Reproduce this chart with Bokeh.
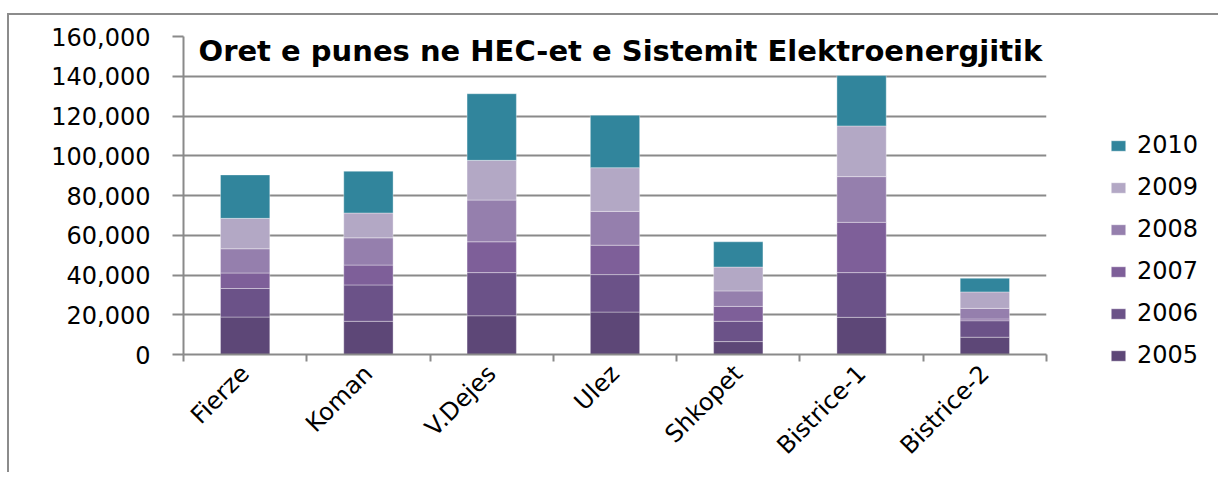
from math import pi
from bokeh.plotting import figure
from bokeh.models import (ColumnDataSource, Range1d, FixedTicker, NumeralTickFormatter,
                          Legend, LegendItem, Label)
from bokeh.embed import file_html
from bokeh.resources import INLINE

# ---- data ----
stations = ["Fierze", "Koman", "V.Dejes", "Ulez", "Shkopet", "Bistrice-1", "Bistrice-2"]
years = ["2005", "2006", "2007", "2008", "2009", "2010"]
v2005 = [18850, 16700, 19500, 21350, 6500, 18700, 8700]
v2006 = [14350, 18300, 21700, 18850, 10200, 22500, 8300]
v2007 = [7800, 10000, 15500, 14800, 7500, 25300, 850]
v2008 = [12200, 13700, 21000, 17000, 7800, 23000, 5350]
v2009 = [15300, 12500, 20000, 22000, 12000, 25500, 8300]
v2010 = [21850, 21000, 33500, 26350, 12700, 25350, 6850]
y_ticks = [0, 20000, 40000, 60000, 80000, 100000, 120000, 140000, 160000]
title_text = "Oret e punes ne HEC-et e Sistemit Elektroenergjitik"

colors = ["#5d4777", "#6b5288", "#7e5f99", "#957fad", "#b3a8c5", "#31859c"]
GRAY = "#8a8a8a"
FONT = "DejaVu Sans"

xs = list(range(len(stations)))
src = ColumnDataSource(dict(x=xs, **{y: v for y, v in zip(years, [v2005, v2006, v2007, v2008, v2009, v2010])}))

p = figure(frame_width=863, frame_height=318, output_backend="svg", toolbar_location=None,
           x_range=Range1d(-0.5, len(stations) - 0.5), y_range=Range1d(y_ticks[0], y_ticks[-1]),
           min_border_left=174, min_border_top=21, min_border_right=172, min_border_bottom=118)
p.styles = {"border-top": "2px solid #8c8c8c", "border-left": "2px solid #8c8c8c",
            "margin-top": "13px", "margin-left": "7px"}
p.outline_line_color = None

renderers = p.vbar_stack(years, x="x", width=0.4, source=src, color=colors,
                         line_color="white", line_alpha=0.35, line_width=1)

# axes
p.yaxis.ticker = FixedTicker(ticks=y_ticks)
p.yaxis.formatter = NumeralTickFormatter(format="0,0")
p.yaxis.major_tick_out = 11
p.yaxis.major_tick_in = 0
p.yaxis.minor_tick_out = 0
p.yaxis.minor_tick_in = 0
p.yaxis.major_label_standoff = 22
p.yaxis.major_label_text_font = FONT
p.yaxis.major_label_text_font_size = "24px"
p.yaxis.major_label_text_color = "black"

p.xaxis.ticker = FixedTicker(ticks=xs, minor_ticks=[i - 0.5 for i in range(len(stations) + 1)])
p.xaxis.major_label_overrides = {i: s for i, s in enumerate(stations)}
p.xaxis.major_tick_out = 0
p.xaxis.major_tick_in = 0
p.xaxis.minor_tick_out = 7
p.xaxis.minor_tick_in = 0
p.xaxis.major_label_orientation = pi / 4
p.xaxis.major_label_standoff = 8
p.xaxis.major_label_text_font = FONT
p.xaxis.major_label_text_font_size = "24px"
p.xaxis.major_label_text_color = "black"

for ax in (p.xaxis, p.yaxis):
    ax.axis_line_color = GRAY
    ax.axis_line_width = 2
    ax.major_tick_line_color = GRAY
    ax.major_tick_line_width = 2
    ax.minor_tick_line_color = GRAY
    ax.minor_tick_line_width = 2

p.xgrid.grid_line_color = None
p.ygrid.ticker = FixedTicker(ticks=y_ticks)
p.ygrid.grid_line_color = GRAY
p.ygrid.grid_line_width = 2

p.add_layout(Label(x=15, y=304, x_units="screen", y_units="screen", text=title_text,
                   text_font=FONT, text_font_style="bold", text_font_size="29px",
                   text_baseline="alphabetic", text_color="black"))

items = [LegendItem(label=y, renderers=[r]) for y, r in reversed(list(zip(years, renderers)))]
legend = Legend(items=items, location=(63, -15), orientation="vertical",
                glyph_width=18, glyph_height=13, label_standoff=10, label_height=22,
                spacing=14, padding=0, margin=0, border_line_alpha=0, background_fill_alpha=0,
                label_text_font=FONT, label_text_font_size="24px", label_text_color="black")
p.add_layout(legend, "right")

open("out.html", "w").write(file_html(p, INLINE))
